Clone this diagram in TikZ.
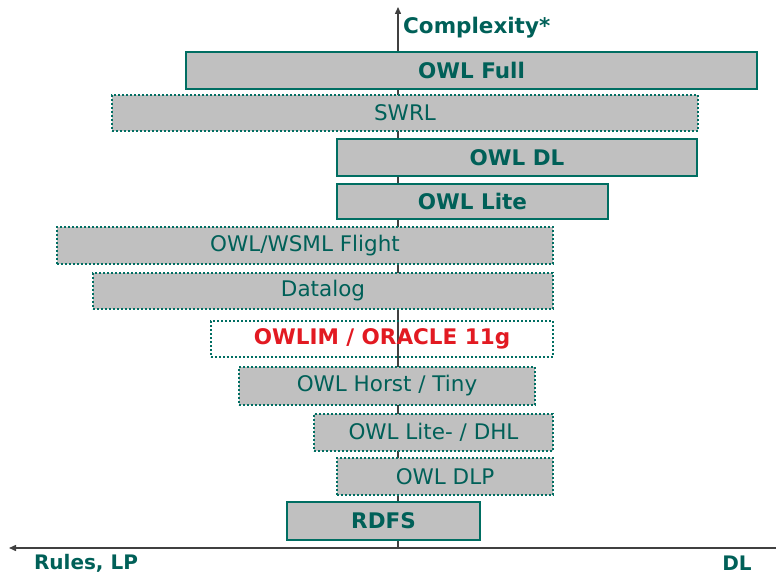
\documentclass[tikz,border=0pt]{standalone}
\usepackage{fontspec}
\setmainfont{DejaVu Sans}
\usepackage{xcolor}
\usetikzlibrary{arrows.meta}
\definecolor{tealline}{RGB}{0,110,98}
\definecolor{tealtext}{RGB}{0,96,88}
\definecolor{boxgray}{RGB}{192,192,192}
\definecolor{owlred}{RGB}{226,26,34}
\tikzset{
  lang/.style     ={rectangle, fill=boxgray, inner sep=0pt, text=tealtext, font=\fontsize{21.5}{24}\selectfont},
  solidlang/.style={lang, draw=tealline, line width=2.6pt, font=\fontsize{21.5}{24}\selectfont\bfseries},
  dotlang/.style  ={lang, draw=tealline, line width=2pt, dotted},
  axis/.style     ={draw=black!75, line width=1.4pt, -{Triangle[length=7pt, width=6pt]}},
  axlabel/.style  ={text=tealtext, font=\fontsize{21.5}{24}\selectfont\bfseries, inner sep=0pt},
}
\begin{document}
\begin{tikzpicture}[x=1pt, y=-1pt]
  \useasboundingbox (0,0) rectangle (776,575);
  % axes behind the boxes
  \coordinate (origin) at (398,548);
  \coordinate (ytip)   at (398,7);
  \coordinate (xright) at (776,548);
  \coordinate (xtip)   at (9,548);
  \draw[axis] (origin) -- (ytip);
  \draw[axis] (xright) -- (xtip);

  \node[axlabel, anchor=west] (cplx)  at (403,28)  {Complexity*};
  \node[axlabel, font=\fontsize{20}{22}\selectfont\bfseries] (rules) at (86,563) {Rules, LP};
  \node[axlabel, font=\fontsize{20}{22}\selectfont\bfseries] (dl)    at (737,563) {DL};

  % language layers, top to bottom
  \node[solidlang, minimum width=571, minimum height=37] (owlfull)   at (471.5,70.5)  {OWL Full};
  \node[dotlang,   minimum width=586, minimum height=36] (swrl)      at (405,113)     {SWRL};
  \node[solidlang, minimum width=360, minimum height=37] (owldl)     at (517,157.5)   {OWL DL};
  \node[solidlang, minimum width=271, minimum height=35] (owllite)   at (472.5,201.5) {OWL Lite};
  \node[dotlang,   minimum width=496, minimum height=37] (flight)    at (305,245.5)   {OWL/WSML Flight};
  \node[dotlang,   minimum width=460, minimum height=36] (datalog)   at (323,291)     {Datalog};
  \node[dotlang,   minimum width=342, minimum height=36, fill=none, text=owlred, font=\fontsize{21.5}{24}\selectfont\bfseries] (owlim) at (382,339) {OWLIM / ORACLE 11g};
  \node[dotlang,   minimum width=296, minimum height=38] (horst)     at (387,386)     {OWL Horst / Tiny};
  \node[dotlang,   minimum width=239, minimum height=37] (litedhl)   at (433.5,432.5) {OWL Lite- / DHL};
  \node[dotlang,   minimum width=216, minimum height=37] (owldlp)    at (445,476.5)   {OWL DLP};
  \node[solidlang, minimum width=193, minimum height=38] (rdfs)      at (383.5,521)   {RDFS};
\end{tikzpicture}
\end{document}
